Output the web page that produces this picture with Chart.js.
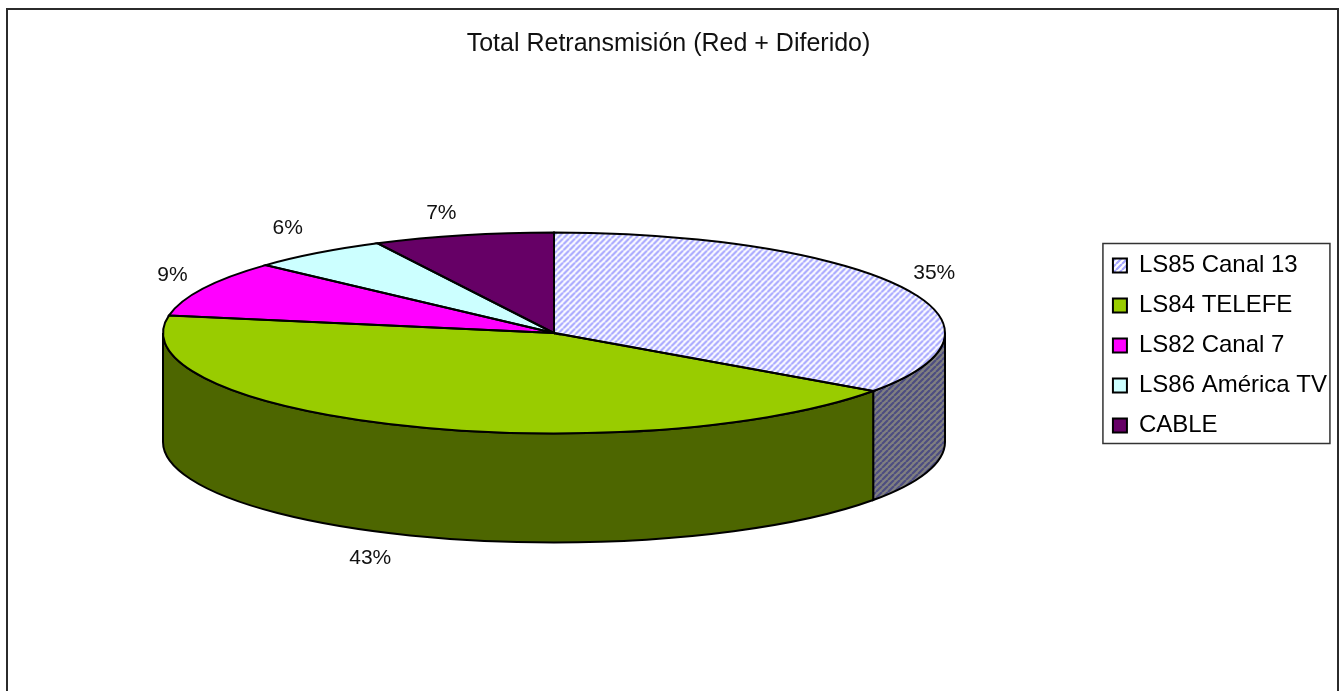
<!DOCTYPE html>
<html lang="es">
<head>
<meta charset="utf-8">
<title>Total Retransmisión</title>
<script src="https://cdn.jsdelivr.net/npm/chart.js@4/dist/chart.umd.min.js"></script>
<style>
    html, body { margin: 0; padding: 0; background: #fff; overflow: hidden; }
    #wrap { width: 1344px; height: 691px; position: relative; }
</style>
</head>
<body>
<div id="wrap"><canvas id="pieChart"></canvas></div>
<script>
const titleText = 'Total Retransmisión (Red + Diferido)';
const channels = ['LS85 Canal 13', 'LS84 TELEFE', 'LS82 Canal 7', 'LS86 América TV', 'CABLE'];
const shares = [34.8, 43, 9, 5.75, 7.45];

const sliceColors = ['#ffffff', '#99cc00', '#ff00ff', '#ccffff', '#660066'];
const wallColors = ['#808080', '#4d6600', '#800080', '#668080', '#330033'];
// distance of each percent label from the rim point of its slice
const labelOffsets = [[33, -14], [-33, 23], [-31, -13], [-30, -25], [-22, -22]];

const FONT = "'Liberation Sans', Arial, sans-serif";
const pie = { cx: 554, cy: 333, rx: 391, ry: 100.5, depth: 109 };

function stripes(background, stripe) {
    const size = 6;
    const tile = document.createElement('canvas');
    tile.width = size;
    tile.height = size;
    const c = tile.getContext('2d');
    c.fillStyle = background;
    c.fillRect(0, 0, size, size);
    c.strokeStyle = stripe;
    c.lineWidth = 2.2;
    c.beginPath();
    for (let i = -size; i <= size * 2; i += size) {
        c.moveTo(i, size);
        c.lineTo(i + size, 0);
    }
    c.stroke();
    return c.createPattern(tile, 'repeat');
}

const topHatch = stripes('#ffffff', '#a6a6ff');
const wallHatch = stripes('#808080', '#4d4d80');
sliceColors[0] = topHatch;
wallColors[0] = wallHatch;

function rimPath(ctx, from, to, y) {
    ctx.ellipse(pie.cx, y, pie.rx, pie.ry, 0, from, to);
}

const pie3d = {
    id: 'pie3d',
    beforeDraw(chart) {
        const { ctx } = chart;
        ctx.save();
        ctx.fillStyle = '#fff';
        ctx.fillRect(0, 0, chart.width, chart.height);
        // outer frame, open at the bottom like the source image
        ctx.strokeStyle = '#2b2b2b';
        ctx.lineWidth = 2;
        ctx.beginPath();
        ctx.moveTo(7, 691);
        ctx.lineTo(7, 9);
        ctx.lineTo(1338, 9);
        ctx.lineTo(1338, 691);
        ctx.stroke();
        // legend box
        const first = chart.legend.legendHitBoxes[0];
        ctx.strokeStyle = '#333';
        ctx.lineWidth = 1.5;
        ctx.strokeRect(first.left - 10, first.top - 10, 227, 200);
        ctx.restore();
    },
    beforeDatasetsDraw(chart) {
        const { ctx } = chart;
        const arcs = chart.getDatasetMeta(0).data;
        const { x, y, outerRadius } = arcs[0];
        const sx = pie.rx / outerRadius;
        const sy = pie.ry / outerRadius;

        // side wall of the disc, only the part facing the viewer
        ctx.save();
        ctx.strokeStyle = '#000';
        ctx.lineWidth = 2;
        arcs.forEach((arc, i) => {
            const from = Math.max(arc.startAngle, 0);
            const to = Math.min(arc.endAngle, Math.PI);
            if (to <= from) return;
            ctx.beginPath();
            rimPath(ctx, from, to, pie.cy);
            ctx.lineTo(pie.cx + pie.rx * Math.cos(to), pie.cy + pie.depth + pie.ry * Math.sin(to));
            ctx.ellipse(pie.cx, pie.cy + pie.depth, pie.rx, pie.ry, 0, to, from, true);
            ctx.closePath();
            ctx.fillStyle = wallColors[i];
            ctx.fill();
            ctx.stroke();
        });
        ctx.restore();

        // squash the library's round pie into the disc's top face
        topHatch.setTransform(new DOMMatrix().scale(1 / sx, 1 / sy));
        ctx.save();
        ctx.translate(pie.cx, pie.cy);
        ctx.scale(sx, sy);
        ctx.translate(-x, -y);
    },
    afterDatasetsDraw(chart) {
        const { ctx } = chart;
        ctx.restore();
        topHatch.setTransform(new DOMMatrix());

        const arcs = chart.getDatasetMeta(0).data;
        const total = shares.reduce((a, b) => a + b, 0);
        ctx.save();
        ctx.strokeStyle = '#000';
        ctx.lineWidth = 2;
        arcs.forEach((arc) => {
            ctx.beginPath();
            ctx.moveTo(pie.cx, pie.cy);
            rimPath(ctx, arc.startAngle, arc.endAngle, pie.cy);
            ctx.closePath();
            ctx.stroke();
        });

        ctx.fillStyle = '#111';
        ctx.font = '21px ' + FONT;
        ctx.textAlign = 'center';
        ctx.textBaseline = 'middle';
        arcs.forEach((arc, i) => {
            const mid = (arc.startAngle + arc.endAngle) / 2;
            const front = Math.sin(mid) > 0 ? pie.depth : 0;
            const px = pie.cx + pie.rx * Math.cos(mid) + labelOffsets[i][0];
            const py = pie.cy + front + pie.ry * Math.sin(mid) + labelOffsets[i][1];
            ctx.fillText(Math.round(shares[i] / total * 100) + '%', px, py);
        });
        ctx.restore();
    },
};

new Chart(document.getElementById('pieChart'), {
    type: 'pie',
    data: {
        labels: channels,
        datasets: [{
            data: shares,
            backgroundColor: sliceColors,
            borderWidth: 0,
            clip: false,
        }],
    },
    options: {
        responsive: true,
        maintainAspectRatio: false,
        animation: false,
        layout: { padding: { right: 7 } },
        plugins: {
            tooltip: { enabled: false },
            title: {
                display: true,
                text: titleText,
                color: '#111',
                font: { family: FONT, size: 25, weight: 'normal' },
                padding: { top: 29, bottom: 112 },
            },
            legend: {
                position: 'right',
                labels: {
                    color: '#000',
                    font: { family: FONT, size: 24 },
                    boxWidth: 14,
                    boxHeight: 14,
                    padding: 16,
                    generateLabels(chart) {
                        const items = Chart.overrides.pie.plugins.legend.labels.generateLabels(chart);
                        items.forEach((item) => {
                            item.strokeStyle = '#000';
                            item.lineWidth = 2;
                        });
                        return items;
                    },
                },
            },
        },
    },
    plugins: [pie3d],
});
</script>
</body>
</html>
